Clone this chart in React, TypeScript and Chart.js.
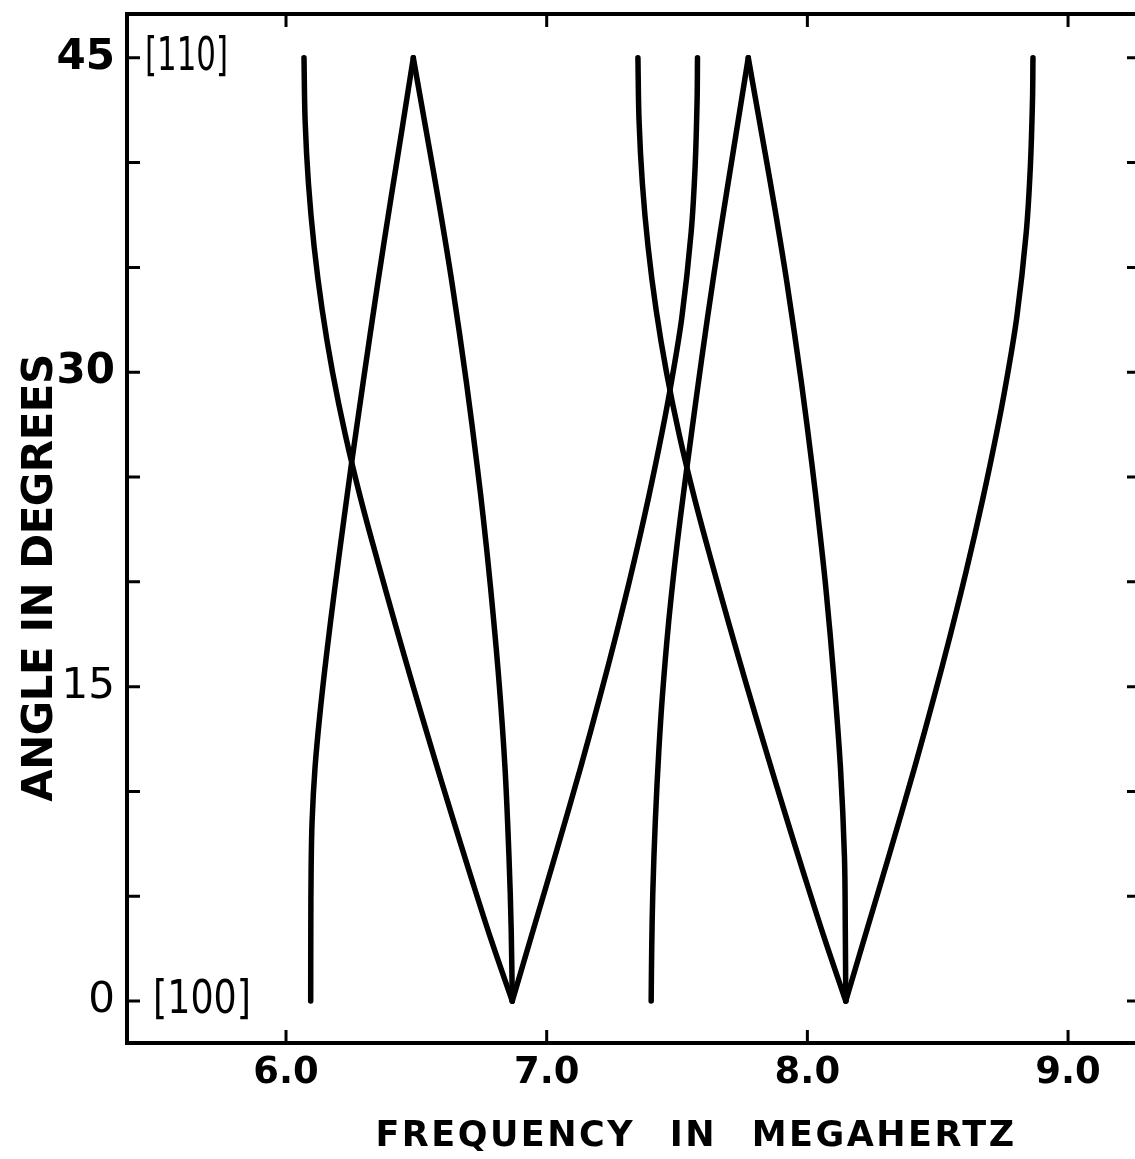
import React, { useEffect, useRef } from "react";
import { Chart, registerables } from "chart.js";

Chart.register(...registerables);

// ---- data: [frequency (MHz), angle (degrees)] ----
const branch1: [number, number][] = [
  [6.069, 45], [6.0733, 42], [6.0861, 39], [6.1078, 36], [6.1385, 33], [6.1785, 30],
  [6.2278, 27], [6.2858, 24], [6.351, 21], [6.4185, 18], [6.4881, 15], [6.5595, 12],
  [6.6327, 9], [6.7077, 6], [6.7848, 3], [6.868, 0],
];
const branch2: [number, number][] = [
  [6.0947, 0], [6.0951, 3.39], [6.0963, 6.25], [6.1001, 8.59], [6.1112, 11.12], [6.13, 13.69],
  [6.1557, 16.56], [6.1868, 19.66], [6.2217, 22.95], [6.2516, 25.67], [6.2954, 29.48],
  [6.3521, 34.26], [6.4016, 38.22], [6.4427, 41.41], [6.4883, 45],
];
const branch3: [number, number][] = [
  [6.4883, 45], [6.5393, 41.41], [6.5892, 37.88], [6.6367, 34.26], [6.6924, 29.48],
  [6.7338, 25.48], [6.7576, 22.95], [6.7852, 19.66], [6.8163, 15.36], [6.8401, 11.12],
  [6.8554, 6.87], [6.8638, 3.44], [6.868, 0],
];
const branch4: [number, number][] = [
  [6.868, 0], [6.9494, 3.44], [7.031, 6.87], [7.1296, 11.12], [7.205, 14.55], [7.2651, 17.41],
  [7.3267, 20.52], [7.3886, 23.9], [7.442, 27.1], [7.4777, 29.48], [7.5186, 32.63],
  [7.5539, 36.64], [7.5693, 39.79], [7.577, 42.99], [7.5785, 45],
];
const branch5: [number, number][] = [
  [7.35, 45], [7.3543, 42], [7.3671, 39], [7.3888, 36], [7.4195, 33], [7.4595, 30],
  [7.5088, 27], [7.5668, 24], [7.6315, 21], [7.699, 18], [7.7686, 15], [7.84, 12],
  [7.9132, 9], [7.9882, 6], [8.0653, 3], [8.1473, 0],
];
const branch6: [number, number][] = [
  [7.4008, 0], [7.4028, 2.43], [7.407, 5.15], [7.4167, 8.59], [7.4304, 11.98], [7.4438, 14.55],
  [7.4668, 17.94], [7.4914, 20.85], [7.5117, 22.95], [7.5382, 25.48], [7.5727, 28.67],
  [7.6172, 32.63], [7.6655, 36.64], [7.7165, 40.6], [7.7733, 45],
];
const branch7: [number, number][] = [
  [7.7733, 45], [7.8243, 41.41], [7.8742, 37.88], [7.9217, 34.26], [7.9774, 29.48],
  [8.0188, 25.48], [8.0426, 22.95], [8.0712, 19.66], [8.102, 15.36], [8.127, 11.12],
  [8.1423, 6.87], [8.1455, 3.44], [8.1473, 0],
];
const branch8: [number, number][] = [
  [8.1473, 0], [8.2293, 3.44], [8.3115, 6.87], [8.4108, 11.12], [8.4868, 14.55], [8.5473, 17.41],
  [8.6095, 20.52], [8.6719, 23.9], [8.7259, 27.1], [8.762, 29.48], [8.8034, 32.63],
  [8.8394, 36.64], [8.8553, 39.79], [8.8636, 42.99], [8.8654, 45],
];

const branches = [branch1, branch2, branch3, branch4, branch5, branch6, branch7, branch8];

const xTickValues = [6.0, 7.0, 8.0, 9.0];
const yLabelValues = [0, 15, 30, 45];
const yTickMarks = [0, 5, 10, 15, 20, 25, 30, 35, 40, 45];
const orientationTexts = ["[110]", "[100]"];
const orientationAngles = [45, 0];

const xTitle = "FREQUENCY IN MEGAHERTZ";
const yTitle = "ANGLE IN DEGREES";

const CANVAS_W = 1150;
const CANVAS_H = 1159;

const framePlugin = {
  id: "frameAndTexts",
  afterDraw(chart: any) {
    const { ctx, chartArea: a, scales } = chart;
    const xs = scales.x;
    const ys = scales.y;
    ctx.save();
    ctx.strokeStyle = "#000";
    ctx.fillStyle = "#000";
    ctx.lineWidth = 4;
    ctx.strokeRect(a.left, a.top, a.right - a.left, a.bottom - a.top);

    // inward tick marks
    const tl = 13;
    ctx.lineWidth = 3;
    ctx.beginPath();
    for (const v of yTickMarks) {
      const p = ys.getPixelForValue(v);
      ctx.moveTo(a.left, p);
      ctx.lineTo(a.left + tl, p);
      ctx.moveTo(a.right, p);
      ctx.lineTo(a.right - tl, p);
    }
    for (const v of xTickValues) {
      const p = xs.getPixelForValue(v);
      ctx.moveTo(p, a.top);
      ctx.lineTo(p, a.top + tl);
      ctx.moveTo(p, a.bottom);
      ctx.lineTo(p, a.bottom - tl);
    }
    ctx.stroke();

    // orientation labels [110] / [100]
    const insets = [18, 26];
    const widths = [83, 98];
    ctx.font = '47px "DejaVu Sans"';
    ctx.textBaseline = "middle";
    ctx.textAlign = "left";
    orientationTexts.forEach((t, i) => {
      const w = ctx.measureText(t).width;
      const sx = widths[i] / w;
      ctx.save();
      ctx.translate(a.left + insets[i], ys.getPixelForValue(orientationAngles[i]));
      ctx.scale(sx, 1);
      ctx.fillText(t, 0, 0);
      ctx.restore();
    });

    // x axis title
    ctx.save();
    ctx.font = 'bold 35px "DejaVu Sans"';
    (ctx as any).letterSpacing = "2.5px";
    (ctx as any).wordSpacing = "20px";
    ctx.textAlign = "center";
    ctx.textBaseline = "alphabetic";
    ctx.fillText(xTitle, 696, chart.height - 13);
    ctx.restore();

    // y axis title
    ctx.save();
    ctx.font = 'bold 42px "DejaVu Sans"';
    (ctx as any).letterSpacing = "-0.5px";
    ctx.textAlign = "center";
    ctx.textBaseline = "alphabetic";
    ctx.translate(52, 578);
    ctx.rotate(-Math.PI / 2);
    ctx.fillText(yTitle, 0, 0);
    ctx.restore();

    ctx.restore();
  },
};

export default function App() {
  const canvasRef = useRef<HTMLCanvasElement | null>(null);

  useEffect(() => {
    if (!canvasRef.current) return;
    const chart = new Chart(canvasRef.current, {
      type: "line",
      data: {
        datasets: branches.map((b, i) => ({
          label: `branch ${i + 1}`,
          data: b.map(([x, y]) => ({ x, y })),
          borderColor: "#000",
          borderWidth: 5.5,
          borderCapStyle: "round",
          borderJoinStyle: "round",
          pointRadius: 0,
          tension: 0.35,
          fill: false,
        })),
      },
      options: {
        animation: false,
        responsive: false,
        devicePixelRatio: 1,
        layout: { padding: { left: 0, top: 14, right: 10, bottom: 0 }, autoPadding: false },
        plugins: {
          legend: { display: false },
          tooltip: { enabled: false },
          title: { display: false },
        },
        scales: {
          x: {
            type: "linear",
            min: 5.39,
            max: 9.276,
            grid: { display: false, drawTicks: false },
            border: { display: false },
            afterBuildTicks: (s: any) => {
              s.ticks = xTickValues.map((v) => ({ value: v }));
            },
            afterFit: (s: any) => {
              s.height = 116;
              s.paddingLeft = 0;
              s.paddingRight = 0;
            },
            ticks: {
              autoSkip: false,
              maxRotation: 0,
              padding: 8,
              color: "#000",
              font: { family: "DejaVu Sans", size: 37, weight: "bold", lineHeight: 1.2 },
              callback: (v: any) => Number(v).toFixed(1),
            },
          },
          y: {
            type: "linear",
            min: -2,
            max: 47.09,
            grid: { display: false, drawTicks: false },
            border: { display: false },
            afterBuildTicks: (s: any) => {
              s.ticks = yLabelValues.map((v) => ({ value: v }));
            },
            afterFit: (s: any) => {
              s.width = 127;
              s.paddingTop = 0;
              s.paddingBottom = 0;
            },
            ticks: {
              autoSkip: false,
              padding: 12,
              color: "#000",
              font: (c: any) => ({
                family: "DejaVu Sans",
                size: 42,
                weight: c.tick && c.tick.value >= 30 ? "bold" : "normal",
                lineHeight: 1.2,
              }),
              callback: (v: any) => String(v),
            },
          },
        },
      },
      plugins: [framePlugin],
    } as any);
    return () => chart.destroy();
  }, []);

  return (
    <div
      style={{
        position: "absolute",
        left: 0,
        top: 0,
        width: 1135,
        height: 1159,
        overflow: "hidden",
        background: "#fff",
      }}
    >
      <canvas
        ref={canvasRef}
        width={CANVAS_W}
        height={CANVAS_H}
        style={{ width: CANVAS_W, height: CANVAS_H, display: "block" }}
      />
    </div>
  );
}
